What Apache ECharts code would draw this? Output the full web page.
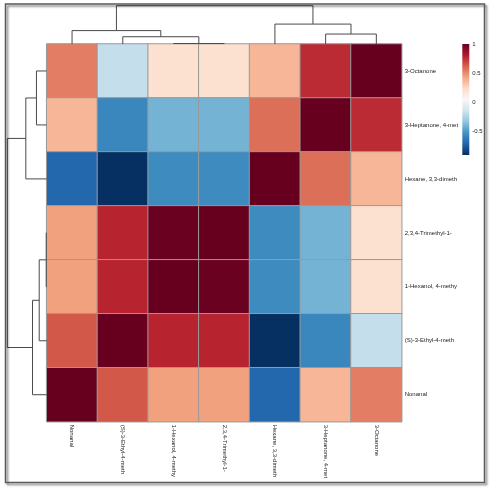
<!DOCTYPE html>
<html>
<head>
<meta charset="utf-8">
<script src="https://cdn.jsdelivr.net/npm/echarts@6/dist/echarts.min.js"></script>
<style>
  html, body { margin: 0; padding: 0; background: #ffffff; }
  #chart { width: 493px; height: 490px; }
</style>
</head>
<body>
<div id="chart"></div>
<script>
// ---- data ----
const colLabels = ['Nonanal', '(S)-3-Ethyl-4-meth', '1-Hexanol, 4-methy', '2,3,4-Trimethyl-1-',
                   'Hexane, 3,3-dimeth', '3-Heptanone, 4-met', '3-Octanone'];
const rowLabels = ['3-Octanone', '3-Heptanone, 4-met', 'Hexane, 3,3-dimeth', '2,3,4-Trimethyl-1-',
                   '1-Hexanol, 4-methy', '(S)-3-Ethyl-4-meth', 'Nonanal'];
// correlation values, one row per rowLabels entry, columns in colLabels order
const corr = [
  [ 0.54, -0.18,  0.20,  0.20,  0.37,  0.76,  1.00],
  [ 0.37, -0.57, -0.40, -0.40,  0.58,  1.00,  0.76],
  [-0.70, -0.90, -0.55, -0.55,  1.00,  0.58,  0.37],
  [ 0.44,  0.78,  0.99,  1.00, -0.55, -0.40,  0.20],
  [ 0.44,  0.78,  1.00,  0.99, -0.55, -0.40,  0.20],
  [ 0.64,  1.00,  0.78,  0.78, -0.90, -0.57, -0.18],
  [ 1.00,  0.64,  0.44,  0.44, -0.70,  0.37,  0.54]
];
// dendrograms (hclust style merges: negative = leaf position, positive = earlier merge)
const colMerge = [[-3, -4], [-2, 1], [-1, 2], [-6, -7], [-5, 4], [3, 5]];
const colHeight = [0.012, 0.19, 0.35, 0.26, 0.52, 1.0];
const rowMerge = [[-1, -2], [-3, 1], [-4, -5], [-6, 3], [-7, 4], [2, 5]];
const rowHeight = [0.26, 0.53, 0.012, 0.19, 0.36, 1.0];
const legendTicks = [-0.5, 0, 0.5, 1];
const colorMin = -0.9, colorMax = 1;
const palette = ['#053061', '#2166AC', '#4393C3', '#92C5DE', '#D1E5F0', '#F7F7F7',
                 '#FDDBC7', '#F4A582', '#D6604D', '#B2182B', '#67001F'];

// ---- build ----
const heatData = [];
corr.forEach((row, r) => row.forEach((v, c) => heatData.push([c, r, v])));

function dendroSegments(merge, heights) {
  const pos = [], segs = [];
  merge.forEach(([a, b], i) => {
    const pa = a < 0 ? (-a - 1) + 0.5 : pos[a - 1];
    const ha = a < 0 ? 0 : heights[a - 1];
    const pb = b < 0 ? (-b - 1) + 0.5 : pos[b - 1];
    const hb = b < 0 ? 0 : heights[b - 1];
    segs.push([pa, pb, ha, hb, heights[i]]);
    pos[i] = (pa + pb) / 2;
  });
  return segs;
}
const colSegs = dendroSegments(colMerge, colHeight);
const rowSegs = dendroSegments(rowMerge, rowHeight);

const lineStyle = { stroke: '#4a4a4a', lineWidth: 1, fill: null };
const font = 'Liberation Sans, Arial, sans-serif';

// colour bar gradient (top = max)
const barStops = palette.slice().reverse().map((c, i, arr) => ({ offset: i / (arr.length - 1), color: c }));
const bar = { left: 462.3, top: 44, width: 7, height: 111 };

const n = colLabels.length;
const option = {
  backgroundColor: '#ffffff',
  animation: false,
  graphic: [{
    type: 'rect',
    shape: { x: 5.5, y: 4, width: 479, height: 478.5 },
    style: { fill: null, stroke: '#5a5a5a', lineWidth: 1.5,
             shadowBlur: 2, shadowOffsetX: 2, shadowOffsetY: 2, shadowColor: 'rgba(0,0,0,0.5)' },
    z: 100
  }, {
    type: 'rect',
    shape: { x: bar.left, y: bar.top, width: bar.width, height: bar.height },
    style: { fill: new echarts.graphic.LinearGradient(0, 0, 0, 1, barStops), stroke: null },
    z: 50
  }],
  grid: [
    { left: 46.7, top: 44, width: 355, height: 377.7 },
    { left: bar.left, top: bar.top, width: bar.width, height: bar.height },
    { left: 46.7, top: 5.7, width: 355, height: 38.3 },
    { left: 7.3, top: 44, width: 39.4, height: 377.7 }
  ],
  xAxis: [
    { type: 'category', gridIndex: 0, data: colLabels, position: 'bottom',
      axisLine: { show: false }, axisTick: { show: false }, splitLine: { show: false },
      axisLabel: { rotate: -90, interval: 0, fontSize: 6, color: '#222', margin: 3, fontFamily: font } },
    { type: 'value', gridIndex: 1, show: false },
    { type: 'value', gridIndex: 2, min: 0, max: n, show: false },
    { type: 'value', gridIndex: 3, min: 0, max: 1, inverse: true, show: false }
  ],
  yAxis: [
    { type: 'category', gridIndex: 0, data: rowLabels, inverse: true, position: 'right',
      axisLine: { show: false }, axisTick: { show: false }, splitLine: { show: false },
      axisLabel: { interval: 0, fontSize: 6, color: '#222', margin: 3, fontFamily: font } },
    { type: 'value', gridIndex: 1, min: colorMin, max: colorMax, position: 'right',
      axisLine: { show: false }, axisTick: { show: false }, splitLine: { show: false },
      axisLabel: { customValues: legendTicks, fontSize: 6, color: '#222', margin: 3, fontFamily: font,
                   formatter: v => String(v) } },
    { type: 'value', gridIndex: 2, min: 0, max: 1, show: false },
    { type: 'value', gridIndex: 3, min: 0, max: n, inverse: true, show: false }
  ],
  visualMap: {
    type: 'continuous', seriesIndex: 0, min: colorMin, max: colorMax, show: false,
    inRange: { color: palette }
  },
  series: [
    { type: 'heatmap', xAxisIndex: 0, yAxisIndex: 0, data: heatData,
      itemStyle: { borderColor: '#999999', borderWidth: 1 },
      emphasis: { disabled: true } },
    { type: 'custom', xAxisIndex: 2, yAxisIndex: 2, data: colSegs, silent: true,
      encode: { x: [0, 1], y: [2, 3, 4] },
      renderItem: (params, api) => {
        const pL = api.value(0), pR = api.value(1), hL = api.value(2), hR = api.value(3), h = api.value(4);
        return { type: 'polyline',
          shape: { points: [api.coord([pL, hL]), api.coord([pL, h]), api.coord([pR, h]), api.coord([pR, hR])] },
          style: lineStyle };
      } },
    { type: 'custom', xAxisIndex: 3, yAxisIndex: 3, data: rowSegs, silent: true,
      encode: { y: [0, 1], x: [2, 3, 4] },
      renderItem: (params, api) => {
        const pL = api.value(0), pR = api.value(1), hL = api.value(2), hR = api.value(3), h = api.value(4);
        return { type: 'polyline',
          shape: { points: [api.coord([hL, pL]), api.coord([h, pL]), api.coord([h, pR]), api.coord([hR, pR])] },
          style: lineStyle };
      } }
  ]
};
const chart = echarts.init(document.getElementById('chart'), null, { renderer: 'canvas' });
chart.setOption(option);
</script>
</body>
</html>
